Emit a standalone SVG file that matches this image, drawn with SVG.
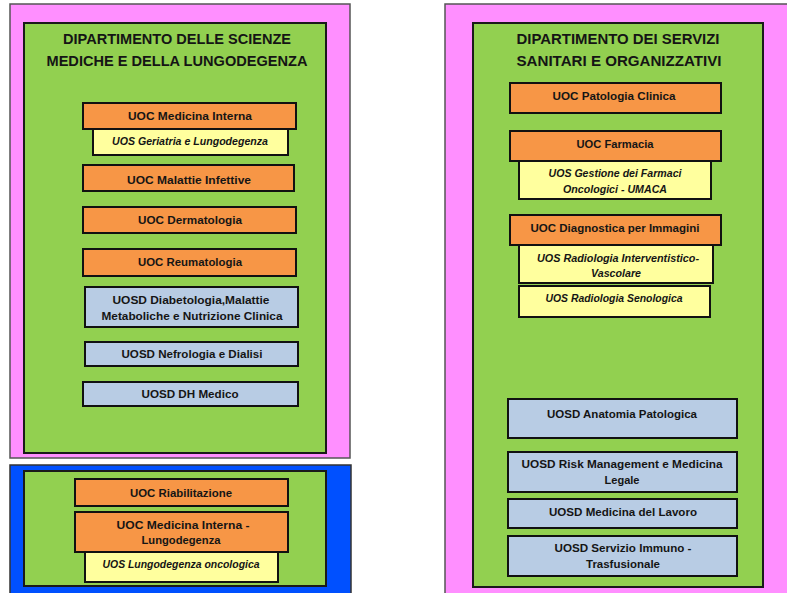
<svg xmlns="http://www.w3.org/2000/svg" width="787" height="593" viewBox="0 0 787 593">
<style>
.pink{fill:#FF8FFF;stroke:#555;stroke-width:1.5}
.blue{fill:#0050FF;stroke:#333;stroke-width:1.5}
.green{fill:#92D050;stroke:#1a1a1a;stroke-width:2}
.uoc{fill:#F79646;stroke:#111;stroke-width:2}
.uos{fill:#FFFF9E;stroke:#111;stroke-width:2}
.uosd{fill:#B8CCE4;stroke:#111;stroke-width:2}
text{font-family:"Liberation Sans",Arial,sans-serif;fill:#151515;text-anchor:middle}
.t{font-size:15px;font-weight:bold}
.b{font-size:10px;font-weight:bold}
.i{font-size:10px;font-style:italic;font-weight:bold}
</style>
<rect width="787" height="593" fill="#fff"/>
<g id="dip-scienze-mediche">
<rect class="pink" x="10" y="4" width="340" height="454"/>
<rect class="green" x="24" y="23" width="302" height="430"/>
<text class="t" x="177" y="44" textLength="228" lengthAdjust="spacingAndGlyphs">DIPARTIMENTO DELLE SCIENZE</text>
<text class="t" x="177" y="66" textLength="261" lengthAdjust="spacingAndGlyphs">MEDICHE E DELLA LUNGODEGENZA</text>
</g>
<g id="uoc-medicina-interna">
<rect class="uoc" x="83" y="103" width="213" height="26"/>
<text class="b" x="190" y="120" textLength="124" lengthAdjust="spacingAndGlyphs">UOC Medicina Interna</text>
</g>
<g id="uos-geriatria">
<rect class="uos" x="93" y="129" width="195" height="26"/>
<text class="i" x="190" y="145" textLength="156" lengthAdjust="spacingAndGlyphs">UOS Geriatria e Lungodegenza</text>
</g>
<g id="uoc-malattie-infettive">
<rect class="uoc" x="83" y="165" width="211" height="26"/>
<text class="b" x="189" y="184" textLength="124" lengthAdjust="spacingAndGlyphs">UOC Malattie Infettive</text>
</g>
<g id="uoc-dermatologia">
<rect class="uoc" x="83" y="207" width="213" height="26"/>
<text class="b" x="190" y="224" textLength="104" lengthAdjust="spacingAndGlyphs">UOC Dermatologia</text>
</g>
<g id="uoc-reumatologia">
<rect class="uoc" x="83" y="249" width="213" height="27"/>
<text class="b" x="190" y="266" textLength="104" lengthAdjust="spacingAndGlyphs">UOC Reumatologia</text>
</g>
<g id="uosd-diabetologia">
<rect class="uosd" x="85" y="287" width="213" height="40"/>
<text class="b" x="191" y="304" textLength="157" lengthAdjust="spacingAndGlyphs">UOSD Diabetologia,Malattie</text>
<text class="b" x="192" y="320" textLength="181" lengthAdjust="spacingAndGlyphs">Metaboliche e Nutrizione Clinica</text>
</g>
<g id="uosd-nefrologia">
<rect class="uosd" x="85" y="342" width="213" height="24"/>
<text class="b" x="192" y="358" textLength="141" lengthAdjust="spacingAndGlyphs">UOSD Nefrologia e Dialisi</text>
</g>
<g id="uosd-dh-medico">
<rect class="uosd" x="83" y="382" width="215" height="24"/>
<text class="b" x="190" y="398" textLength="97" lengthAdjust="spacingAndGlyphs">UOSD DH Medico</text>
</g>
<g id="area-lungodegenza">
<rect class="blue" x="10" y="465" width="341" height="132"/>
<rect class="green" x="24" y="471" width="302" height="115"/>
</g>
<g id="uoc-riabilitazione">
<rect class="uoc" x="75" y="479" width="213" height="27"/>
<text class="b" x="181" y="497" textLength="102" lengthAdjust="spacingAndGlyphs">UOC Riabilitazione</text>
</g>
<g id="uoc-medicina-interna-lungodegenza">
<rect class="uoc" x="75" y="512" width="213" height="40"/>
<text class="b" x="183" y="529" textLength="133" lengthAdjust="spacingAndGlyphs">UOC Medicina Interna -</text>
<text class="b" x="181" y="544" textLength="79" lengthAdjust="spacingAndGlyphs">Lungodegenza</text>
</g>
<g id="uos-lungodegenza-oncologica">
<rect class="uos" x="85" y="552" width="193" height="30"/>
<text class="i" x="181" y="568" textLength="157" lengthAdjust="spacingAndGlyphs">UOS Lungodegenza oncologica</text>
</g>
<g id="dip-servizi-sanitari">
<rect class="pink" x="445" y="4" width="350" height="595"/>
<rect class="green" x="473" y="23" width="290" height="564"/>
<text class="t" x="618" y="44" textLength="203" lengthAdjust="spacingAndGlyphs">DIPARTIMENTO DEI SERVIZI</text>
<text class="t" x="619" y="66" textLength="205" lengthAdjust="spacingAndGlyphs">SANITARI E ORGANIZZATIVI</text>
</g>
<g id="uoc-patologia-clinica">
<rect class="uoc" x="510" y="83" width="211" height="30"/>
<text class="b" x="614" y="100" textLength="123" lengthAdjust="spacingAndGlyphs">UOC Patologia Clinica</text>
</g>
<g id="uoc-farmacia">
<rect class="uoc" x="510" y="131" width="211" height="30"/>
<text class="b" x="615" y="148" textLength="77" lengthAdjust="spacingAndGlyphs">UOC Farmacia</text>
</g>
<g id="uos-gestione-farmaci">
<rect class="uos" x="519" y="161" width="192" height="38"/>
<text class="i" x="615" y="177" textLength="133" lengthAdjust="spacingAndGlyphs">UOS Gestione dei Farmaci</text>
<text class="i" x="615" y="193" textLength="104" lengthAdjust="spacingAndGlyphs">Oncologici - UMACA</text>
</g>
<g id="uoc-diagnostica-immagini">
<rect class="uoc" x="510" y="215" width="211" height="30"/>
<text class="b" x="615" y="232" textLength="169" lengthAdjust="spacingAndGlyphs">UOC Diagnostica per Immagini</text>
</g>
<g id="uos-radiologia-interventistica">
<rect class="uos" x="519" y="245" width="194" height="38"/>
<text class="i" x="618" y="262" textLength="162" lengthAdjust="spacingAndGlyphs">UOS Radiologia Interventistico-</text>
<text class="i" x="616" y="277" textLength="50" lengthAdjust="spacingAndGlyphs">Vascolare</text>
</g>
<g id="uos-radiologia-senologica">
<rect class="uos" x="519" y="286" width="191" height="31"/>
<text class="i" x="614" y="302" textLength="137" lengthAdjust="spacingAndGlyphs">UOS Radiologia Senologica</text>
</g>
<g id="uosd-anatomia-patologica">
<rect class="uosd" x="508" y="399" width="229" height="39"/>
<text class="b" x="622" y="418" textLength="150" lengthAdjust="spacingAndGlyphs">UOSD Anatomia Patologica</text>
</g>
<g id="uosd-risk-management">
<rect class="uosd" x="508" y="452" width="229" height="40"/>
<text class="b" x="622" y="468" textLength="201" lengthAdjust="spacingAndGlyphs">UOSD Risk Management e Medicina</text>
<text class="b" x="622" y="484" textLength="35" lengthAdjust="spacingAndGlyphs">Legale</text>
</g>
<g id="uosd-medicina-lavoro">
<rect class="uosd" x="508" y="499" width="229" height="29"/>
<text class="b" x="623" y="516" textLength="148" lengthAdjust="spacingAndGlyphs">UOSD Medicina del Lavoro</text>
</g>
<g id="uosd-servizio-immuno">
<rect class="uosd" x="508" y="536" width="229" height="40"/>
<text class="b" x="623" y="552" textLength="137" lengthAdjust="spacingAndGlyphs">UOSD Servizio Immuno -</text>
<text class="b" x="623" y="568" textLength="74" lengthAdjust="spacingAndGlyphs">Trasfusionale</text>
</g>
<g id="connectors"></g>
</svg>
